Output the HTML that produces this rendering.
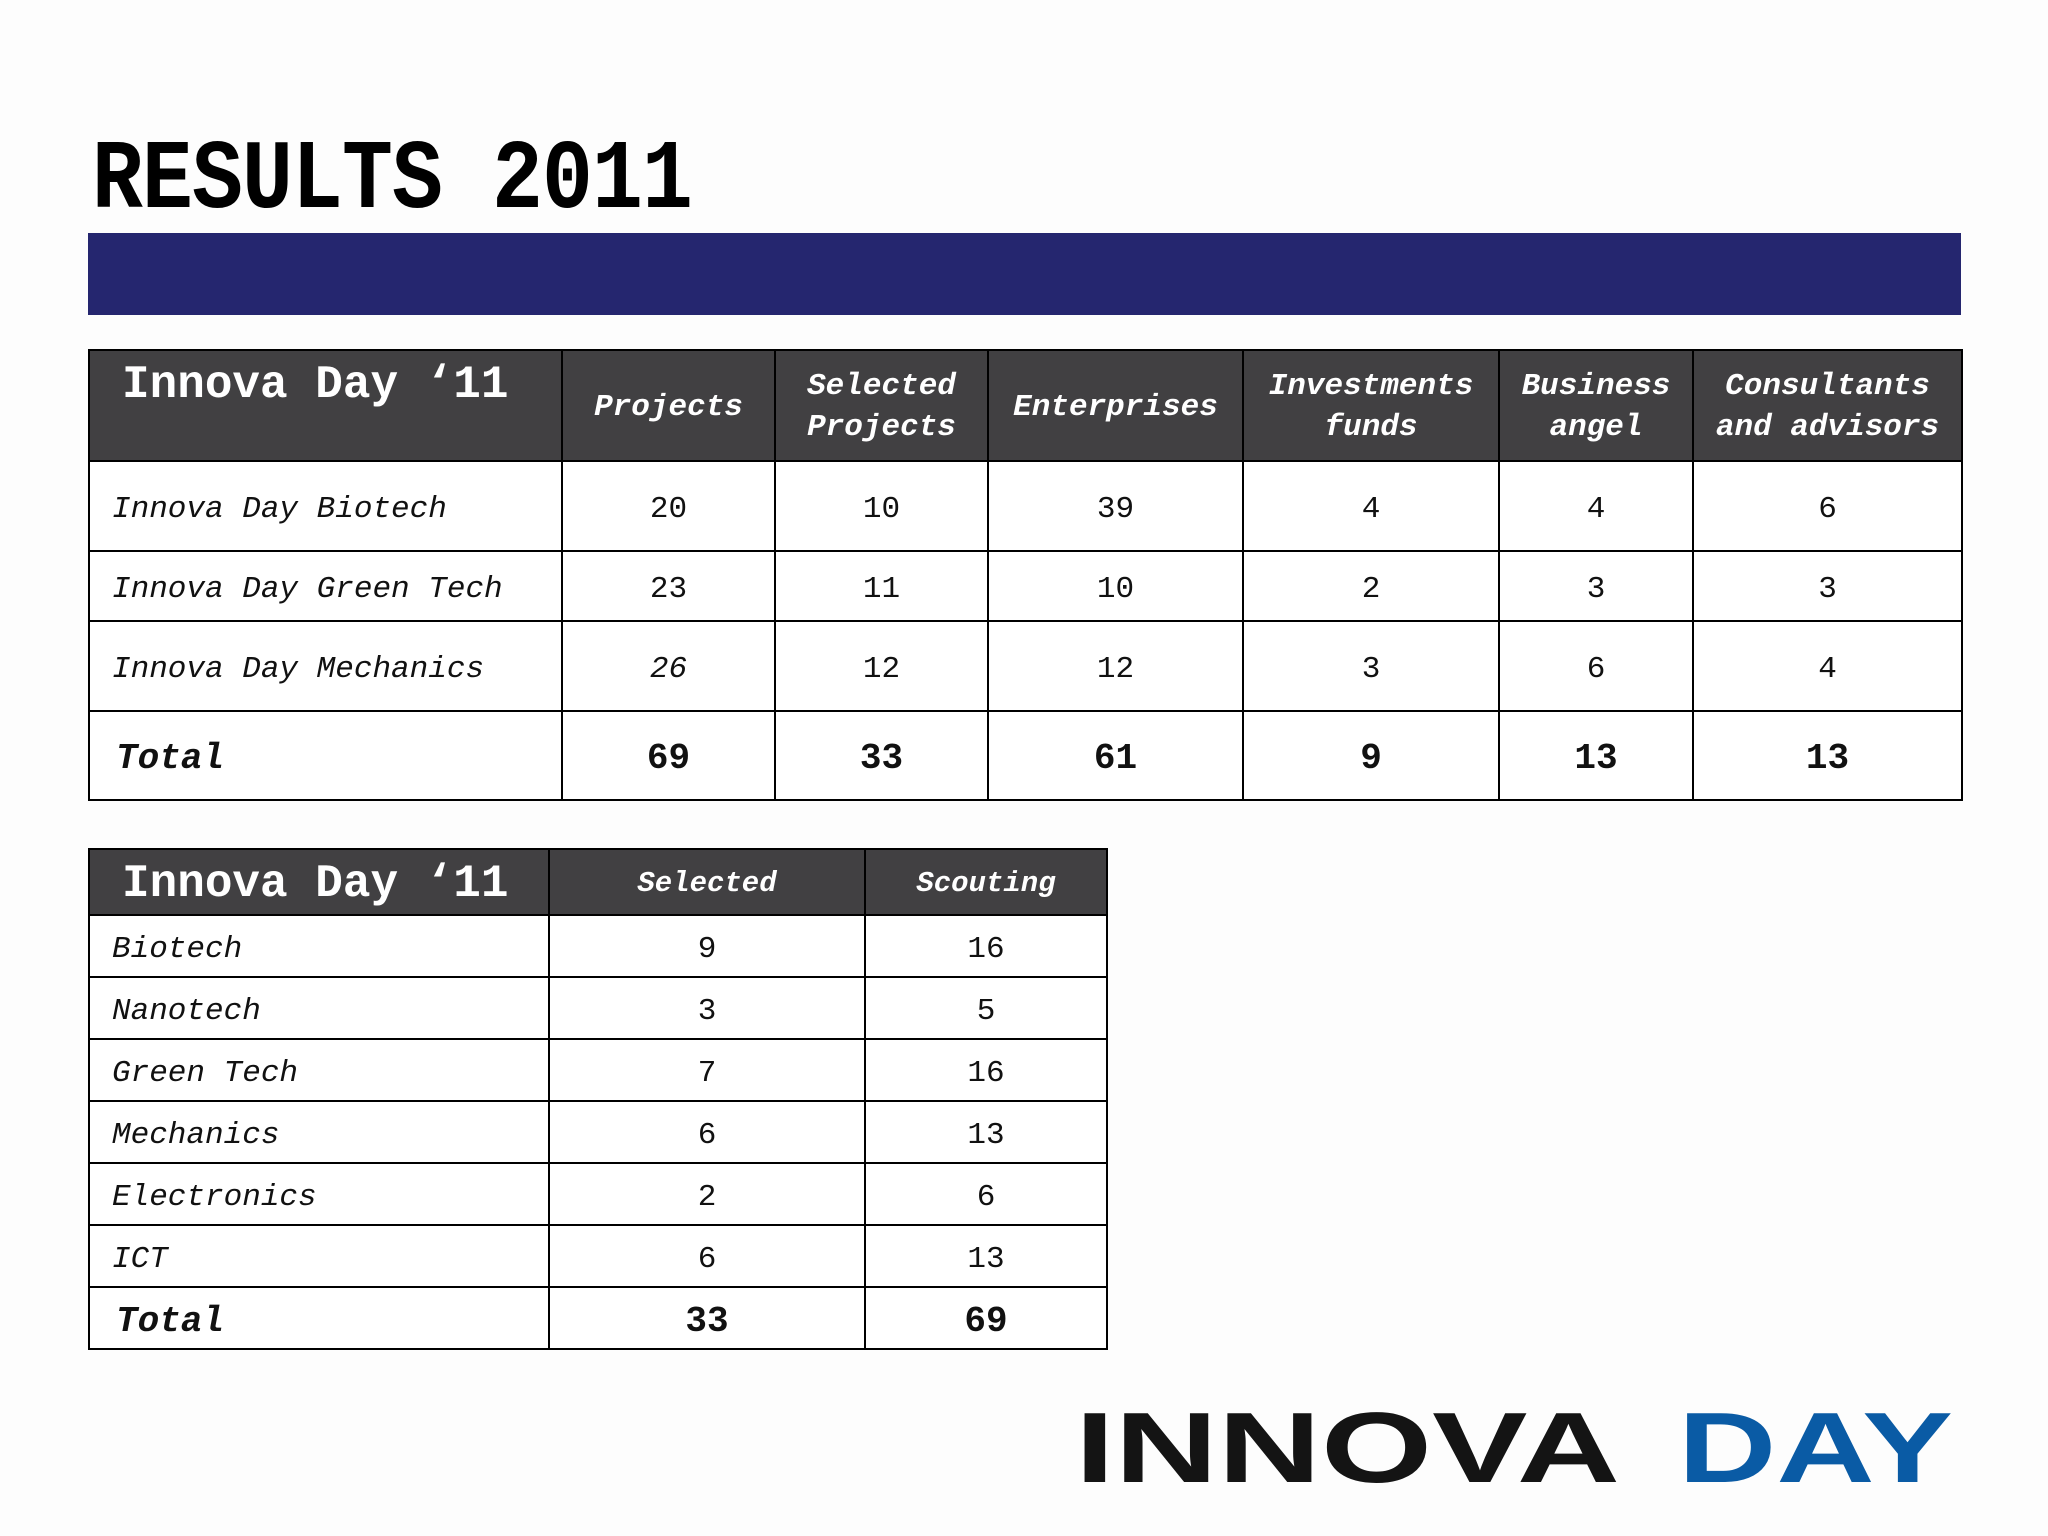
<!DOCTYPE html>
<html><head><meta charset="utf-8"><style>
body{margin:0;width:2048px;height:1536px;background:#fdfdfd;position:relative;overflow:hidden;font-family:"Liberation Mono",monospace;}
.title{position:absolute;left:92px;top:126px;font-size:98px;font-weight:bold;color:#000;letter-spacing:-1px;transform:scaleX(0.865);transform-origin:0 0;white-space:nowrap;}
.bar{position:absolute;left:88px;top:233px;width:1873px;height:82px;background:#25266f;}
table{position:absolute;border-collapse:collapse;table-layout:fixed;background:#fff;}
td{border:2px solid #000;padding:6px 0 0 0;text-align:center;font-size:31px;color:#111;}
th{border:2px solid #000;background:#414042;color:#fff;font-style:italic;font-weight:bold;font-size:31px;line-height:41px;padding-top:4px;}
th.big{font-style:normal;font-size:46px;text-align:left;vertical-align:top;padding:14px 0 0 32px;}
td.lab{text-align:left;padding-left:22px;font-style:italic;}
tr.tot td{font-weight:bold;font-size:36px;}
tr.tot td.lab{padding-left:26px;}
</style></head><body>
<div class="title">RESULTS 2011</div>
<div class="bar"></div>

<table style="left:88px;top:349px;width:1873px;">
<colgroup><col style="width:473px"><col style="width:213px"><col style="width:213px"><col style="width:255px"><col style="width:256px"><col style="width:194px"><col style="width:269px"></colgroup>
<tr style="height:111px"><th class="big">Innova Day ‘11</th><th>Projects</th><th>Selected<br>Projects</th><th>Enterprises</th><th>Investments<br>funds</th><th>Business<br>angel</th><th>Consultants<br>and advisors</th></tr>
<tr style="height:90px"><td class="lab">Innova Day Biotech</td><td>20</td><td>10</td><td>39</td><td>4</td><td>4</td><td>6</td></tr>
<tr style="height:70px"><td class="lab">Innova Day Green Tech</td><td>23</td><td>11</td><td>10</td><td>2</td><td>3</td><td>3</td></tr>
<tr style="height:90px"><td class="lab">Innova Day Mechanics</td><td><i>26</i></td><td>12</td><td>12</td><td>3</td><td>6</td><td>4</td></tr>
<tr style="height:89px" class="tot"><td class="lab">Total</td><td>69</td><td>33</td><td>61</td><td>9</td><td>13</td><td>13</td></tr>
</table>

<table style="left:88px;top:848px;width:1018px;">
<colgroup><col style="width:460px"><col style="width:316px"><col style="width:242px"></colgroup>
<tr style="height:66px"><th class="big" style="padding-top:6px;line-height:56px;">Innova Day ‘11</th><th style="font-size:29px">Selected</th><th style="font-size:29px">Scouting</th></tr>
<tr style="height:62px"><td class="lab">Biotech</td><td>9</td><td>16</td></tr>
<tr style="height:62px"><td class="lab">Nanotech</td><td>3</td><td>5</td></tr>
<tr style="height:62px"><td class="lab">Green Tech</td><td>7</td><td>16</td></tr>
<tr style="height:62px"><td class="lab">Mechanics</td><td>6</td><td>13</td></tr>
<tr style="height:62px"><td class="lab">Electronics</td><td>2</td><td>6</td></tr>
<tr style="height:62px"><td class="lab">ICT</td><td>6</td><td>13</td></tr>
<tr style="height:62px" class="tot"><td class="lab">Total</td><td>33</td><td>69</td></tr>
</table>

<svg style="position:absolute;left:0;top:0" width="2048" height="1536">
<text x="1075" y="1482" font-family="Liberation Sans, sans-serif" font-weight="bold" font-size="100" fill="#141414" textLength="545" lengthAdjust="spacingAndGlyphs">INNOVA</text>
<text x="1678" y="1482" font-family="Liberation Sans, sans-serif" font-weight="bold" font-size="100" fill="#0a5ba5" textLength="275" lengthAdjust="spacingAndGlyphs">DAY</text>
</svg>
</body></html>
